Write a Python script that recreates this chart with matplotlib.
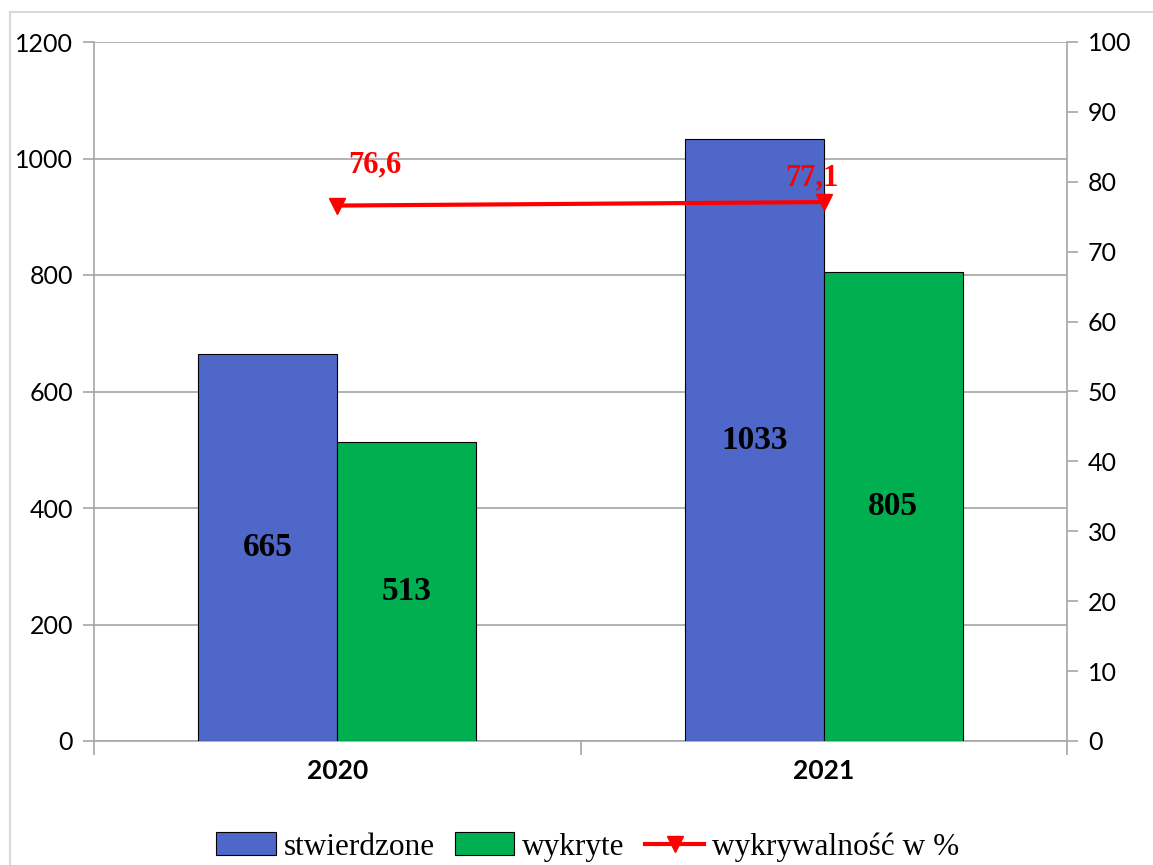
import matplotlib
matplotlib.use("Agg")
import matplotlib.pyplot as plt
from matplotlib.patches import Rectangle
import numpy as np

# data
years = ["2020", "2021"]
stwierdzone = [665, 1033]
wykryte = [513, 805]
wykrywalnosc = [76.6, 77.1]
pct_labels = ["76,6", "77,1"]

blue = "#4F67C8"
green = "#00B050"
red = "#FF0000"
grid_col = "#A6A6A6"

fig = plt.figure(figsize=(11.53, 8.65), dpi=100)
ax = fig.add_axes([94 / 1153, 124 / 865, 973 / 1153, 699 / 865])

# outer frame
fig.patches.append(Rectangle((10 / 1153, -0.1), 1.2, (865 - 12) / 865 + 0.1,
                             transform=fig.transFigure, fill=False,
                             edgecolor="#D9D9D9", linewidth=1.5, zorder=0))

x = np.arange(len(years))
w = 0.286
b1 = ax.bar(x - w / 2, stwierdzone, w, color=blue, edgecolor="black", linewidth=0.8,
            label="stwierdzone", zorder=3)
b2 = ax.bar(x + w / 2, wykryte, w, color=green, edgecolor="black", linewidth=0.8,
            label="wykryte", zorder=3)

for bars, vals in ((b1, stwierdzone), (b2, wykryte)):
    for r, v in zip(bars, vals):
        ax.text(r.get_x() + r.get_width() / 2, v / 2, str(v), ha="center", va="center",
                fontsize=24, fontweight="bold", family="Liberation Serif", zorder=4)

ax.set_xlim(-0.5, 1.5)
ax.set_ylim(0, 1200)
ax.set_yticks(range(0, 1201, 200))
ax.yaxis.grid(True, color=grid_col, linewidth=1.2, zorder=0)
ax.set_axisbelow(True)
ax.set_xticks(x)
ax.set_xticklabels(years, fontsize=19, fontweight="bold", family="Lato")
ax.set_xticks([-0.5, 0.5, 1.5], minor=True)
ax.tick_params(axis="x", which="major", length=0, pad=13)
ax.tick_params(axis="x", which="minor", length=10, color=grid_col, width=1.2)
ax.tick_params(axis="y", length=8, color=grid_col, width=1.2, labelsize=18, pad=7)
for lab in ax.get_yticklabels():
    lab.set_family("Lato")
for s in ["left", "bottom", "right"]:
    ax.spines[s].set_color(grid_col)
    ax.spines[s].set_linewidth(1.2)
ax.spines["top"].set_visible(False)

ax2 = ax.twinx()
ax2.set_ylim(0, 100)
ax2.set_yticks(range(0, 101, 10))
ax2.tick_params(axis="y", length=8, color=grid_col, width=1.2, labelsize=18, pad=7)
for lab in ax2.get_yticklabels():
    lab.set_family("Lato")
for s in ["left", "bottom", "right", "top"]:
    ax2.spines[s].set_visible(False)

ln, = ax2.plot(x, wykrywalnosc, color=red, linewidth=3, marker="v", markersize=11,
               label="wykrywalność w %", zorder=5)
offsets = [(38, 41), (-12, 24)]
for xi, v, t, off in zip(x, wykrywalnosc, pct_labels, offsets):
    ax2.annotate(t, (xi, v), xytext=off, textcoords="offset pixels", ha="center",
                 va="center", color=red, fontsize=22, fontweight="bold",
                 family="Liberation Serif")

fig.legend(handles=[b1, b2, ln], loc="center", bbox_to_anchor=(588 / 1153, 18 / 865),
           ncol=3, frameon=False, prop={"family": "Liberation Serif", "size": 22.5},
           handlelength=1.9, handleheight=0.75, handletextpad=0.25, columnspacing=0.65)

fig.savefig("out.png", dpi=100)
